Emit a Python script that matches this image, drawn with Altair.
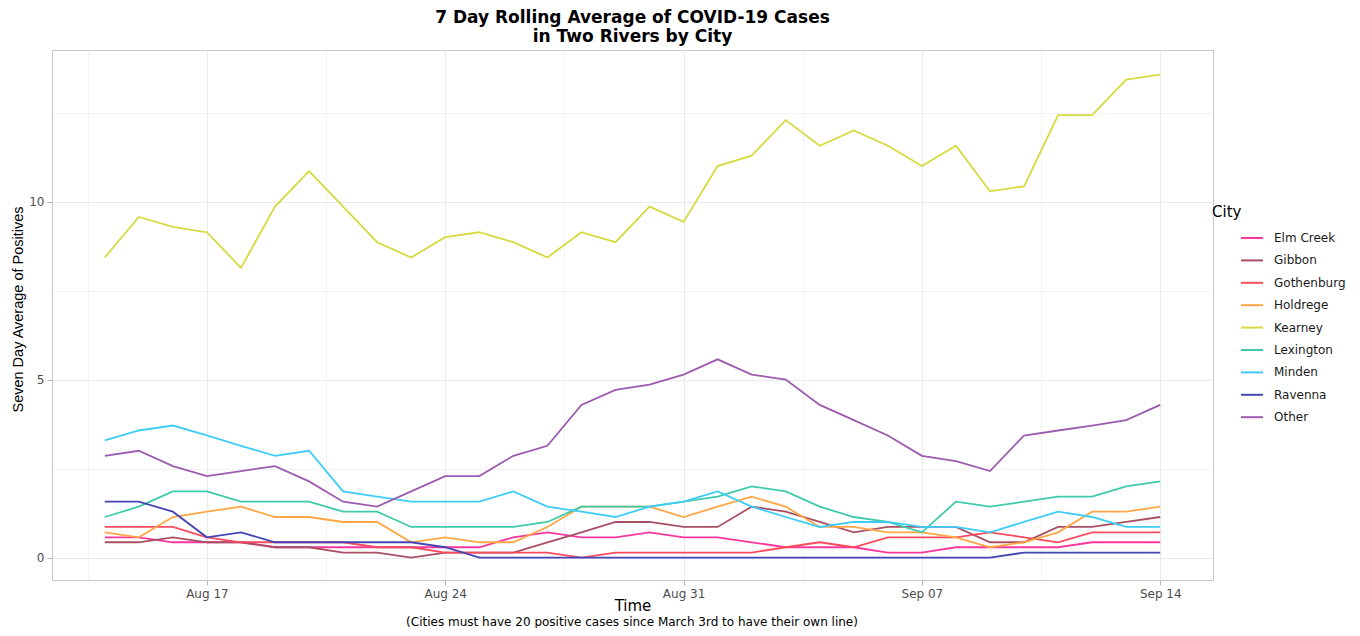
import altair as alt
import pandas as pd

dates = pd.date_range("2020-08-14", periods=32, freq="D")

cities = ["Elm Creek", "Gibbon", "Gothenburg", "Holdrege", "Kearney",
          "Lexington", "Minden", "Ravenna", "Other"]
colors = ["#F8379D", "#A94F64", "#F94A5E", "#FFA645", "#D6DA3F",
          "#3ECBAA", "#3DCDF7", "#4444B4", "#9D5BB0"]

elm_creek = [0.57, 0.57, 0.43, 0.43, 0.43, 0.29, 0.29, 0.29, 0.29, 0.29, 0.29, 0.29, 0.57, 0.71, 0.57, 0.57,
             0.71, 0.57, 0.57, 0.43, 0.29, 0.29, 0.29, 0.14, 0.14, 0.29, 0.29, 0.29, 0.29, 0.43, 0.43, 0.43]
gibbon = [0.43, 0.43, 0.57, 0.43, 0.43, 0.29, 0.29, 0.14, 0.14, 0.0, 0.14, 0.14, 0.14, 0.43, 0.71, 1.0,
          1.0, 0.86, 0.86, 1.43, 1.29, 1.0, 0.71, 0.86, 0.86, 0.86, 0.43, 0.43, 0.86, 0.86, 1.0, 1.14]
gothenburg = [0.86, 0.86, 0.86, 0.57, 0.43, 0.43, 0.43, 0.43, 0.29, 0.29, 0.14, 0.14, 0.14, 0.14, 0.0, 0.14,
              0.14, 0.14, 0.14, 0.14, 0.29, 0.43, 0.29, 0.57, 0.57, 0.57, 0.71, 0.57, 0.43, 0.71, 0.71, 0.71]
holdrege = [0.71, 0.57, 1.14, 1.29, 1.43, 1.14, 1.14, 1.0, 1.0, 0.43, 0.57, 0.43, 0.43, 0.86, 1.43, 1.43,
            1.43, 1.14, 1.43, 1.71, 1.43, 0.86, 0.86, 0.71, 0.71, 0.57, 0.29, 0.43, 0.71, 1.29, 1.29, 1.43]
kearney = [8.43, 9.57, 9.29, 9.14, 8.14, 9.86, 10.86, 9.86, 8.86, 8.43, 9.0, 9.14, 8.86, 8.43, 9.14, 8.86,
           9.86, 9.43, 11.0, 11.29, 12.29, 11.57, 12.0, 11.57, 11.0, 11.57, 10.29, 10.43, 12.43, 12.43, 13.43, 13.57]
lexington = [1.14, 1.43, 1.86, 1.86, 1.57, 1.57, 1.57, 1.29, 1.29, 0.86, 0.86, 0.86, 0.86, 1.0, 1.43, 1.43,
             1.43, 1.57, 1.71, 2.0, 1.86, 1.43, 1.14, 1.0, 0.71, 1.57, 1.43, 1.57, 1.71, 1.71, 2.0, 2.14]
minden = [3.29, 3.57, 3.71, 3.43, 3.14, 2.86, 3.0, 1.86, 1.71, 1.57, 1.57, 1.57, 1.86, 1.43, 1.29, 1.14,
          1.43, 1.57, 1.86, 1.43, 1.14, 0.86, 1.0, 1.0, 0.86, 0.86, 0.71, 1.0, 1.29, 1.14, 0.86, 0.86]
ravenna = [1.57, 1.57, 1.29, 0.57, 0.71, 0.43, 0.43, 0.43, 0.43, 0.43, 0.29, 0.0, 0.0, 0.0, 0.0, 0.0,
           0.0, 0.0, 0.0, 0.0, 0.0, 0.0, 0.0, 0.0, 0.0, 0.0, 0.0, 0.14, 0.14, 0.14, 0.14, 0.14]
other = [2.86, 3.0, 2.57, 2.29, 2.43, 2.57, 2.14, 1.57, 1.43, 1.86, 2.29, 2.29, 2.86, 3.14, 4.29, 4.71,
         4.86, 5.14, 5.57, 5.14, 5.0, 4.29, 3.86, 3.43, 2.86, 2.71, 2.43, 3.43, 3.57, 3.71, 3.86, 4.29]

series = [elm_creek, gibbon, gothenburg, holdrege, kearney, lexington, minden, ravenna, other]

rows = []
for city, vals in zip(cities, series):
    for d, v in zip(dates, vals):
        rows.append({"Date": d, "City": city, "Value": v})
df = pd.DataFrame(rows)

caption = "(Cities must have 20 positive cases since March 3rd to have their own line)"

FONT = "DejaVu Sans"
YFONT = "Liberation Sans"

x_values = [
    alt.DateTime(year=2020, month=8, date=13, hours=12),
    alt.DateTime(year=2020, month=8, date=17),
    alt.DateTime(year=2020, month=8, date=20, hours=12),
    alt.DateTime(year=2020, month=8, date=24),
    alt.DateTime(year=2020, month=8, date=27, hours=12),
    alt.DateTime(year=2020, month=8, date=31),
    alt.DateTime(year=2020, month=9, date=3, hours=12),
    alt.DateTime(year=2020, month=9, date=7),
    alt.DateTime(year=2020, month=9, date=10, hours=12),
    alt.DateTime(year=2020, month=9, date=14),
]

minor_x = "hours(datum.value) !== 0"
minor_y = "datum.value % 5 !== 0"

lines = alt.Chart(df).mark_line(strokeWidth=1.8).encode(
    x=alt.X(
        "Date:T",
        title="Time",
        scale=alt.Scale(domain=[
            alt.DateTime(year=2020, month=8, date=12, hours=10, minutes=48),
            alt.DateTime(year=2020, month=9, date=15, hours=13, minutes=12),
        ]),
        axis=alt.Axis(
            values=x_values,
            labelExpr="hours(datum.value) === 0 ? timeFormat(datum.value, '%b %d') : ''",
            tickOpacity={"condition": {"test": minor_x, "value": 0}, "value": 1},
            gridWidth={"condition": {"test": minor_x, "value": 0.6}, "value": 1.1},
            titlePadding=-1,
            titleFont=FONT,
            titleFontSize=15,
        ),
    ),
    y=alt.Y(
        "Value:Q",
        title="Seven Day Average of Positives",
        scale=alt.Scale(domain=[-0.63, 14.26], nice=False, zero=False),
        axis=alt.Axis(
            values=[0, 2.5, 5, 7.5, 10, 12.5],
            labelExpr="datum.value % 5 === 0 ? datum.label : ''",
            tickOpacity={"condition": {"test": minor_y, "value": 0}, "value": 1},
            gridWidth={"condition": {"test": minor_y, "value": 0.6}, "value": 1.1},
            titlePadding=3,
            titleFont=YFONT,
            titleFontSize=14.5,
            titleY=259,
        ),
    ),
    color=alt.Color(
        "City:N",
        scale=alt.Scale(domain=cities, range=colors),
        sort=cities,
        legend=alt.Legend(
            title="City",
            orient="none",
            legendX=1160,
            legendY=155,
            symbolType="stroke",
            symbolSize=484,
            symbolStrokeWidth=2,
            symbolOffset=28,
            labelOffset=10,
            rowPadding=4.4,
            titleFontSize=15,
            titleFontWeight="normal",
            titleColor="#000000",
            titlePadding=6,
            labelFontSize=12,
            labelColor="#1A1A1A",
            labelFont=FONT,
            titleFont=FONT,
        ),
    ),
)

cap = alt.Chart(pd.DataFrame({"t": [caption]})).mark_text(
    font=FONT, fontSize=12, color="#000000", align="center", baseline="middle"
).encode(
    x=alt.value(580),
    y=alt.value(572),
    text="t:N",
)

chart = alt.layer(lines, cap).properties(
    width=1161,
    height=530,
    title=alt.Title(
        ["7 Day Rolling Average of COVID-19 Cases", "in Two Rivers by City"],
        font=FONT,
        fontSize=17,
        fontWeight="bold",
        color="#000000",
        anchor="middle",
        offset=4,
        lineHeight=19,
    ),
    padding={"left": 44, "top": 42, "right": 139, "bottom": 48},
    autosize=alt.AutoSizeParams(type="none"),
).configure_view(
    stroke="#C8C8C8",
    strokeWidth=1,
).configure_axis(
    domain=False,
    gridColor="#EBEBEB",
    tickColor="#B3B3B3",
    tickSize=5,
    labelFont=FONT,
    labelFontSize=12,
    labelColor="#4D4D4D",
    labelPadding=3,
    titleFontWeight="normal",
    titleColor="#000000",
)

chart.save("out.html", embed_options={"renderer": "svg", "actions": False})
